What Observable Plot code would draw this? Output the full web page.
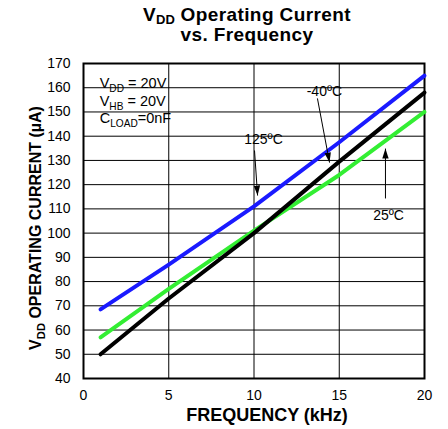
<!DOCTYPE html>
<html><head><meta charset="utf-8">
<script src="https://cdn.jsdelivr.net/npm/d3@7"></script>
<script src="https://cdn.jsdelivr.net/npm/@observablehq/plot@0.6"></script>
<style>
body{margin:0;background:#fff;font-family:"Liberation Sans",Arial,sans-serif;}
#title{width:448px;height:50px;box-sizing:border-box;padding-left:46px;padding-top:5px;text-align:center;font-weight:bold;font-size:19px;line-height:20px;letter-spacing:0.4px;color:#000;}
#title sub{font-size:13px;vertical-align:-3px;line-height:0;letter-spacing:0;}
</style></head><body>
<div id="title">V<sub>DD</sub> Operating Current<br>vs. Frequency</div>
<div id="chart"></div>
<script>
// ---- data ----
const freq = [1, 5, 10, 15, 20];                 // kHz
const iHot  = [68.5, 87, 111, 137.5, 165];       // 125ºC (µA)
const iRoom = [57, 77, 101, 124, 150];           // 25ºC
const iCold = [50, 73, 100, 129.5, 158];         // -40ºC
const xTicks = [0, 5, 10, 15, 20];
const yTicks = [40, 50, 60, 70, 80, 90, 100, 110, 120, 130, 140, 150, 160, 170];
const legendLines = ["V{DD} = 20V", "V{HB} = 20V", "C{LOAD}=0nF"];
const legendY = [161.7, 154.3, 147.3];
const annotText = ["-40ºC", "125ºC", "25ºC"];
const annotX = [14.13, 10.56, 17.89];
const annotY = [158.4, 138.6, 107.3];
const arrowX1 = [13.72, 10.03, 17.71], arrowY1 = [155.6, 134.1, 114.3];
const arrowX2 = [14.43, 10.21, 17.71], arrowY2 = [129.1, 115.5, 134.9];
const xLabel = "FREQUENCY (kHz)";
const yLabel = "V{DD} OPERATING CURRENT (µA)";

const toRows = (vals) => freq.map((f, i) => ({f, v: vals[i]}));
const legendRows = legendLines.map((t, i) => ({t, x: 0.95, y: legendY[i]}));
const annotRows = annotText.map((t, i) => ({t, x: annotX[i], y: annotY[i]}));
const arrowRows = arrowX1.map((x, i) => ({x1: x, y1: arrowY1[i], x2: arrowX2[i], y2: arrowY2[i]}));

const chart = Plot.plot({
  width: 448, height: 379,
  marginTop: 13, marginBottom: 51, marginLeft: 83, marginRight: 24,
  style: {fontFamily: '"Liberation Sans", Arial, sans-serif', fontSize: "14px", color: "#000", background: "#fff"},
  x: {domain: [0, 20], ticks: xTicks, tickSize: 0, tickPadding: 12, label: null},
  y: {domain: [40, 170], ticks: yTicks, tickSize: 0, tickPadding: 13, label: null},
  marks: [
    Plot.ruleX(xTicks, {stroke: "#000", strokeWidth: 1}),
    Plot.ruleY(yTicks, {stroke: "#000", strokeWidth: 1}),
    Plot.frame({stroke: "#000", strokeWidth: 2}),
    Plot.line(toRows(iRoom), {x: "f", y: "v", stroke: "#33ee33", strokeWidth: 4, strokeLinecap: "round"}),
    Plot.line(toRows(iCold), {x: "f", y: "v", stroke: "#000", strokeWidth: 4, strokeLinecap: "round"}),
    Plot.line(toRows(iHot), {x: "f", y: "v", stroke: "#1a1aff", strokeWidth: 4, strokeLinecap: "round"}),
    Plot.text(legendRows, {x: "x", y: "y", text: "t", textAnchor: "start", fontSize: 14.5, fill: "#000", ariaLabel: "legend"}),
    Plot.text(annotRows, {x: "x", y: "y", text: "t", fontSize: 14, fill: "#000", ariaLabel: "annot"}),
    Plot.link(arrowRows, {x1: "x1", y1: "y1", x2: "x2", y2: "y2", stroke: "#000", strokeWidth: 1, markerEnd: "arrow"}),
    Plot.text([xLabel], {frameAnchor: "bottom", textAnchor: "middle", lineAnchor: "middle", text: d => d, dx: 13, dy: 37, fontSize: 18, fontWeight: "bold", fill: "#000"}),
    Plot.text([yLabel], {frameAnchor: "left", textAnchor: "middle", lineAnchor: "middle", text: d => d, dx: -48, dy: 7, rotate: -90, fontSize: 16, fontWeight: "bold", fill: "#000"})
  ]
});
document.getElementById("chart").appendChild(chart);

const NS = "http://www.w3.org/2000/svg";
// subscripts
chart.querySelectorAll("text").forEach(el => {
  const s = el.textContent;
  if (!s.includes("{")) return;
  const fs = parseFloat(getComputedStyle(el).fontSize) || 14;
  const shift = Math.round(fs * 0.28);
  el.textContent = "";
  let shifted = false;
  s.split(/(\{[^}]*\})/).forEach(p => {
    if (!p) return;
    const t = document.createElementNS(NS, "tspan");
    if (p.startsWith("{")) {
      t.textContent = p.slice(1, -1);
      t.setAttribute("font-size", (fs * 0.7) + "px");
      t.setAttribute("dy", shift);
      shifted = true;
    } else {
      t.textContent = p;
      if (shifted) { t.setAttribute("dy", -shift); shifted = false; }
    }
    el.appendChild(t);
  });
});
// white boxes behind labels
function boxBehind(g, bb, px, py) {
  const r = document.createElementNS(NS, "rect");
  r.setAttribute("x", bb.x - px); r.setAttribute("y", bb.y - py);
  r.setAttribute("width", bb.width + 2 * px); r.setAttribute("height", bb.height + 2 * py);
  r.setAttribute("fill", "#fff");
  g.parentNode.insertBefore(r, g);
}
const lg = chart.querySelector('g[aria-label="legend"]');
if (lg) boxBehind(lg, lg.getBBox(), 6, 3);
const ag = chart.querySelector('g[aria-label="annot"]');
if (ag) {
  const tr = ag.getAttribute("transform");
  ag.querySelectorAll("text").forEach(t => {
    const bb = t.getBBox();
    const r = document.createElementNS(NS, "rect");
    r.setAttribute("x", bb.x - 9); r.setAttribute("y", bb.y - 1);
    r.setAttribute("width", bb.width + 18); r.setAttribute("height", bb.height + 2);
    r.setAttribute("fill", "#fff");
    if (tr) r.setAttribute("transform", tr);
    ag.parentNode.insertBefore(r, ag);
  });
}
// filled arrowheads
chart.querySelectorAll("marker").forEach(m => {
  m.setAttribute("viewBox", "-10 -5 10 10");
  m.setAttribute("markerWidth", 10);
  m.setAttribute("markerHeight", 10);
  m.setAttribute("fill", "#000");
  m.setAttribute("stroke", "none");
  const p = m.querySelector("path");
  if (p) p.setAttribute("d", "M-10,-3.2L0,0L-10,3.2Z");
});
</script>
</body></html>
